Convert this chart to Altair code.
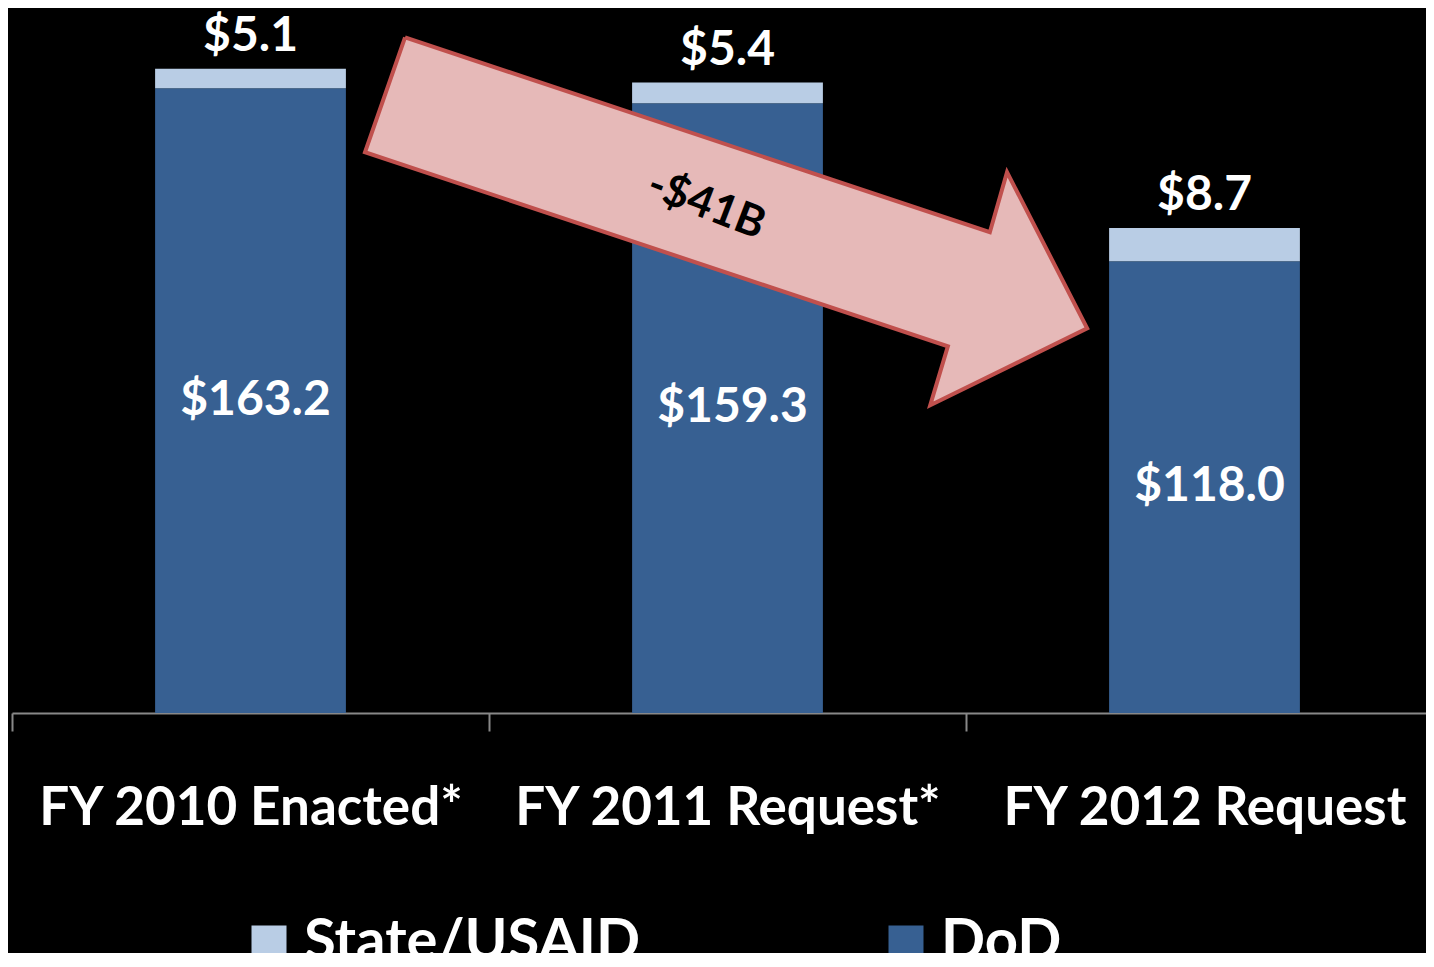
import altair as alt
import pandas as pd

# ---- data ----
categories = ["FY 2010 Enacted*", "FY 2011 Request*", "FY 2012 Request"]
dod = [163.2, 159.3, 118.0]
state = [5.1, 5.4, 8.7]
series_names = ["State/USAID", "DoD"]
series_colors = ["#B9CDE5", "#376092"]

# arrow annotation outline (x in category-band units, y in $B)
arrow_x = [0.824, 2.050, 2.086, 2.254, 1.925, 1.962, 0.740, 0.824]
arrow_y = [176.5, 125.6, 141.3, 100.5, 80.4, 95.8, 146.5, 176.5]
arrow_label = ["-$41B"]
arrow_label_x = [1.455]
arrow_label_y = [132.6]

FONT = "Lato"

long_df = pd.DataFrame(
    [{"category": c, "series": "DoD", "value": d, "stack_order": 0} for c, d in zip(categories, dod)]
    + [{"category": c, "series": "State/USAID", "value": s, "stack_order": 1} for c, s in zip(categories, state)]
)
wide_df = pd.DataFrame({"category": categories, "dod": dod, "state": state})
arrow_df = pd.DataFrame({"ax": arrow_x, "ay": arrow_y, "i": list(range(len(arrow_x)))})
arrow_text_df = pd.DataFrame({"tx": arrow_label_x, "ty": arrow_label_y, "label": arrow_label})

y_scale = alt.Scale(domain=[0, 180], nice=False, zero=True)
x_band = alt.Scale(paddingInner=0, paddingOuter=0)

bars = alt.Chart(long_df).mark_bar(width=alt.RelativeBandSize(0.4)).encode(
    x=alt.X(
        "category:N",
        sort=categories,
        scale=x_band,
        axis=alt.Axis(
            title=None,
            labelFont=FONT,
            labelFontSize=53,
            labelFontWeight="bold",
            labelColor="white",
            labelPadding=51,
            labelAngle=0,
            labelLimit=800,
            tickBand="extent",
            tickSize=18,
            tickWidth=2,
            tickColor="#888888",
            domainColor="#888888",
            domainWidth=2,
            grid=False,
        ),
    ),
    y=alt.Y("value:Q", stack="zero", scale=y_scale, axis=None),
    color=alt.Color(
        "series:N",
        scale=alt.Scale(domain=series_names, range=series_colors),
        legend=alt.Legend(
            title=None,
            orient="none",
            legendX=228,
            legendY=890,
            direction="horizontal",
            symbolType="square",
            symbolSize=1225,
            symbolStrokeWidth=0,
            symbolOpacity=1,
            labelFont=FONT,
            labelFontSize=58,
            labelFontWeight="bold",
            labelColor="white",
            labelLimit=1000,
            labelOffset=6,
            columnPadding=236,
            padding=0,
        ),
    ),
    order=alt.Order("stack_order:Q"),
)

dod_text = alt.Chart(wide_df).transform_calculate(
    mid="datum.dod / 2", lab="'$' + format(datum.dod, '.1f')"
).mark_text(font=FONT, fontSize=48, fontWeight="bold", color="white", baseline="middle", dx=5).encode(
    x=alt.X("category:N", sort=categories),
    y=alt.Y("mid:Q"),
    text="lab:N",
)

top_text = alt.Chart(wide_df).transform_calculate(
    total="datum.dod + datum.state", lab="'$' + format(datum.state, '.1f')"
).mark_text(font=FONT, fontSize=48, fontWeight="bold", color="white", baseline="middle", dy=-32).encode(
    x=alt.X("category:N", sort=categories),
    y=alt.Y("total:Q"),
    text="lab:N",
)

base = alt.layer(bars, dod_text, top_text)

arrow = alt.Chart(arrow_df).mark_line(
    fill="#E6B9B8", stroke="#C0504D", strokeWidth=4, strokeJoin="miter"
).encode(
    x=alt.X("ax:Q", scale=alt.Scale(domain=[0, 3], nice=False, zero=False), axis=None),
    y=alt.Y("ay:Q", scale=y_scale, axis=None),
    order=alt.Order("i:Q"),
)

arrow_text = alt.Chart(arrow_text_df).mark_text(
    font=FONT, fontSize=44, fontWeight="bold", color="black", angle=21, baseline="middle"
).encode(
    x=alt.X("tx:Q"),
    y=alt.Y("ty:Q"),
    text="label:N",
)

annot = alt.layer(arrow, arrow_text)

chart = alt.layer(base, annot).resolve_scale(x="independent").properties(
    width=1431,
    height=689,
    autosize=alt.AutoSizeParams(type="none"),
    padding={"left": 4, "top": 16, "right": -17, "bottom": 240},
    background="black",
).configure_view(stroke=None)

chart.save("out.html", embed_options={"renderer": "svg", "actions": False})
